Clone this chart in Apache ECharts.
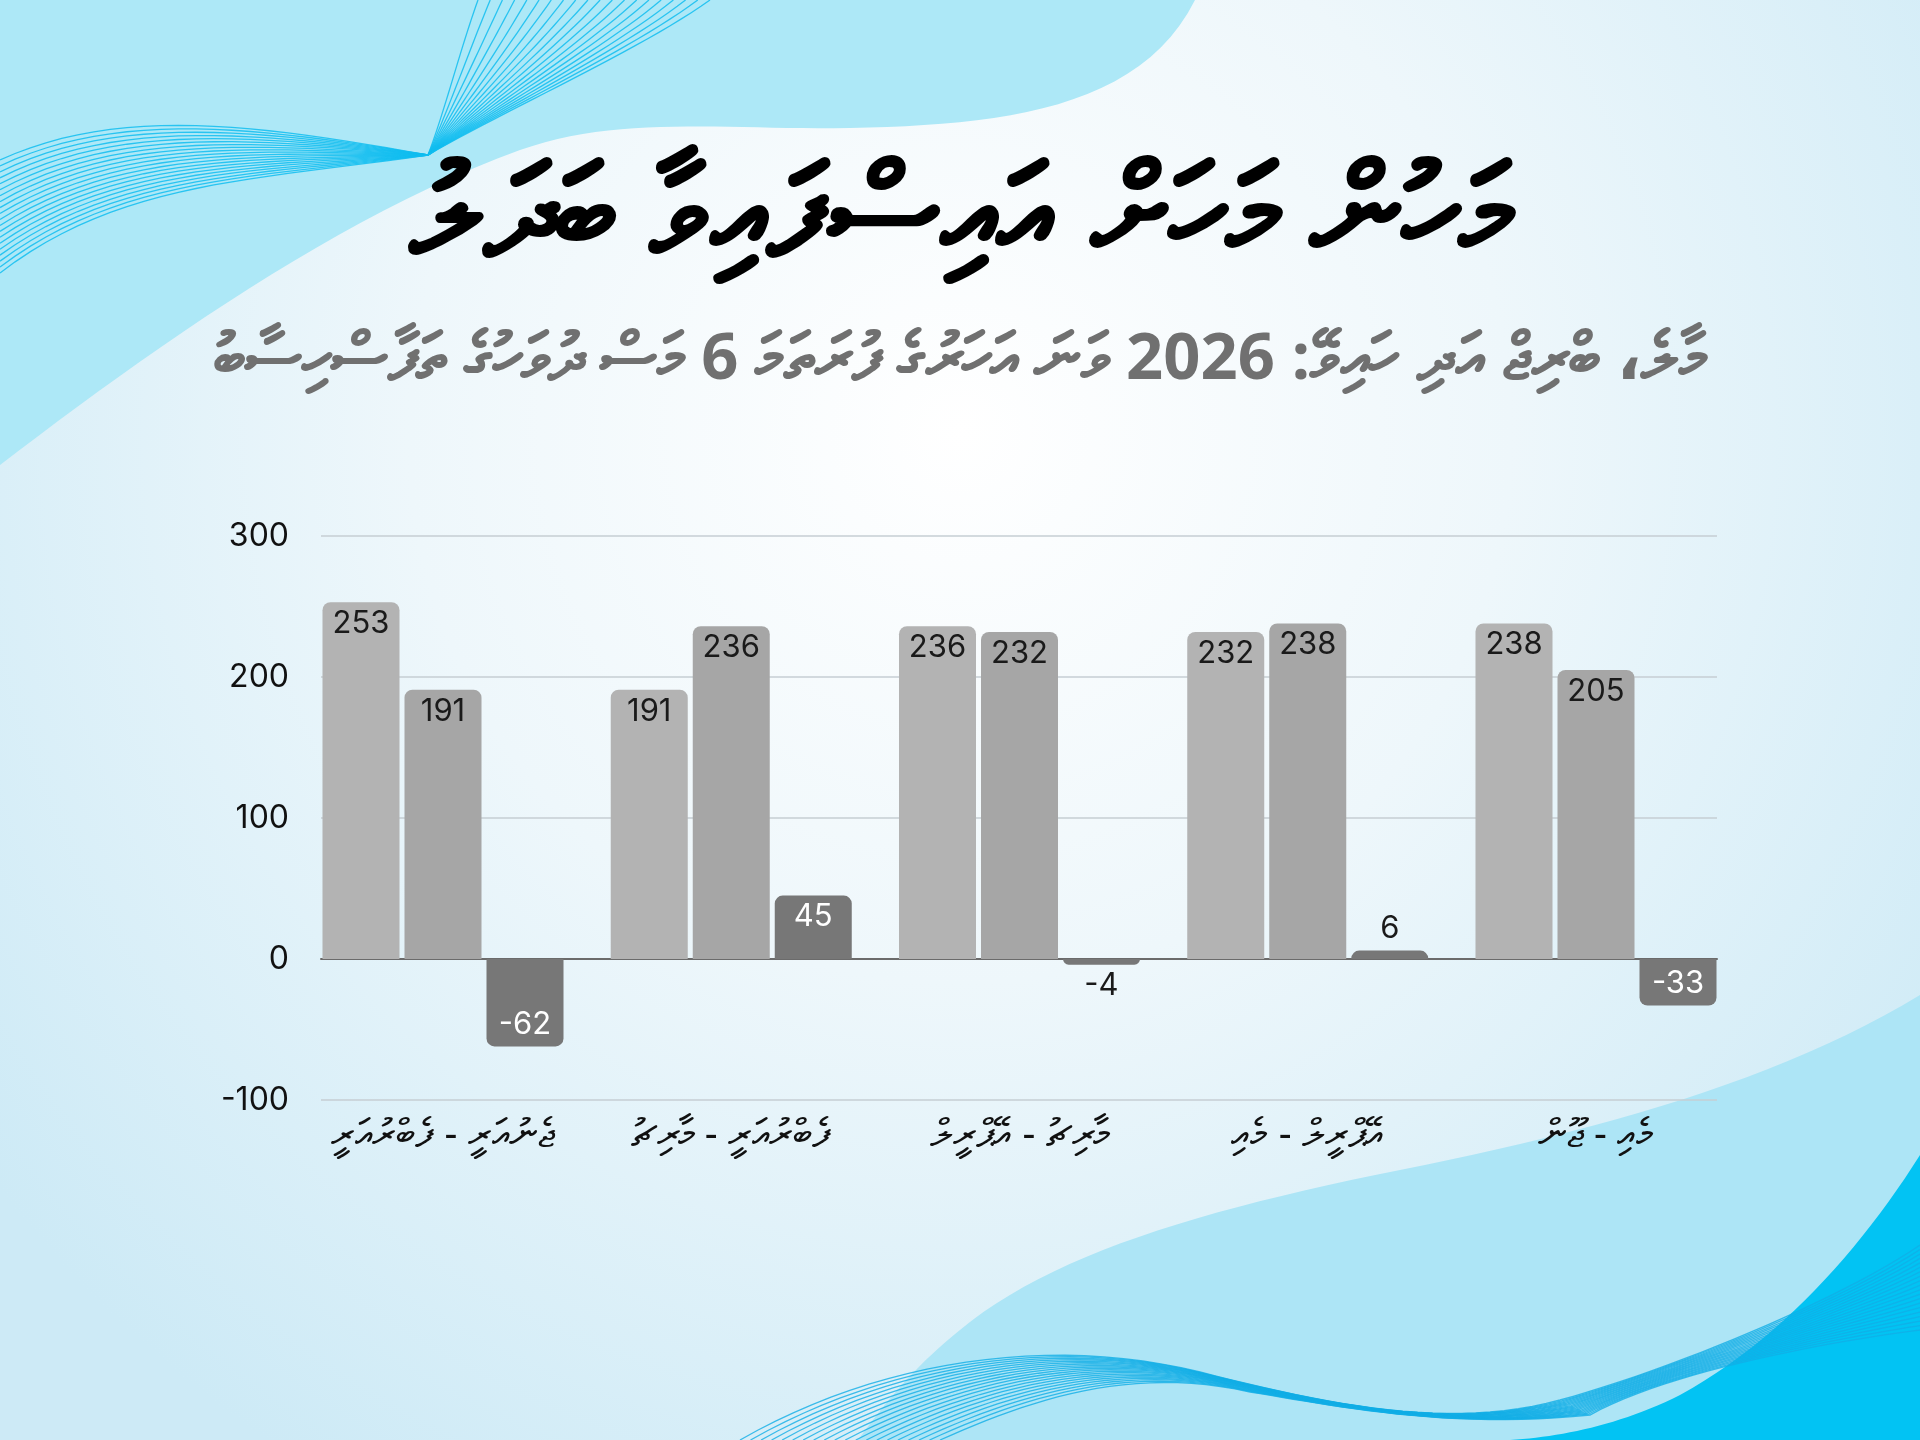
<!DOCTYPE html>
<html>

<head>
    <meta charset="utf-8" />
    <script src="https://cdn.jsdelivr.net/npm/echarts@6/dist/echarts.min.js"></script>
    <style>
        html, body { margin: 0; padding: 0; }
        #main { width: 1920px; height: 1440px; }
    </style>
</head>

<body>
    <div id="main"></div>
    <script type="text/javascript">
        // texts
        var titleText = 'މަހުން މަހަށް އައިސްފައިވާ ބަދަލު';
        var subtitleText = 'މާލެ، ބްރިޖް އަދި ހައިވޭ: 2026 ވަނަ އަހަރުގެ ފުރަތަމަ 6 މަސް ދުވަހުގެ ތަފާސްހިސާބު';

        // data
        var categories = ['ޖެނުއަރީ - ފެބްރުއަރީ', 'ފެބްރުއަރީ - މާރިޗު', 'މާރިޗު - އޭޕްރީލް', 'އޭޕްރީލް - މެއި', 'މެއި - ޖޫން'];
        var firstMonth = [253, 191, 236, 232, 238];
        var secondMonth = [191, 236, 232, 238, 205];
        var change = [-62, 45, -4, 6, -33];
        var yMin = -100, yMax = 300, yStep = 100;

        var thaanaFont = "'Noto Sans', 'DejaVu Sans', sans-serif";
        var numFont = "Inter, 'Noto Sans', sans-serif";

        var myChart = echarts.init(document.getElementById('main'));

        // sample a chain of cubic curves into points: start point, then [c1x,c1y,c2x,c2y,x,y] per segment
        function curvePoints(start, segs) {
            var pts = [start.slice()];
            var p = start;
            segs.forEach(function (s) {
                for (var k = 1; k <= 24; k++) {
                    var u = k / 24, a = 1 - u;
                    pts.push([
                        a * a * a * p[0] + 3 * a * a * u * s[0] + 3 * a * u * u * s[2] + u * u * u * s[4],
                        a * a * a * p[1] + 3 * a * a * u * s[1] + 3 * a * u * u * s[3] + u * u * u * s[5]
                    ]);
                }
                p = [s[4], s[5]];
            });
            return pts;
        }

        // background decoration
        var deco = [];
        var topBlob = curvePoints([1195, 0], [
            [1140, 110, 1000, 125, 850, 128],
            [720, 130, 620, 115, 520, 150],
            [340, 215, 150, 350, 0, 465]
        ]);
        topBlob.push([0, 0]);
        deco.push({ type: 'polygon', z: -5, silent: true, shape: { points: topBlob }, style: { fill: '#ade8f7' } });

        var bottomBlob = curvePoints([1920, 995], [
            [1780, 1080, 1600, 1130, 1400, 1170],
            [1200, 1210, 1050, 1255, 960, 1330],
            [910, 1370, 880, 1410, 858, 1440]
        ]);
        bottomBlob.push([1920, 1440]);
        deco.push({ type: 'polygon', z: -5, silent: true, shape: { points: bottomBlob }, style: { fill: '#ade5f6' } });

        var cornerBlob = curvePoints([1920, 1155], [
            [1860, 1250, 1780, 1340, 1680, 1395],
            [1620, 1425, 1560, 1437, 1510, 1440]
        ]);
        cornerBlob.push([1920, 1440]);
        deco.push({ type: 'polygon', z: -4, silent: true, shape: { points: cornerBlob }, style: { fill: '#02c3f3' } });

        var n = 20;
        for (var i = 0; i < n; i++) {
            var t = i / (n - 1);
            deco.push({
                type: 'polyline', z: -3, silent: true,
                shape: {
                    points: curvePoints([0, 160 + 113 * t], [
                        [120, 105 + 75 * t, 260, 125 + 55 * t, 428, 155],
                        [445 + 60 * t, 110, 460 + 180 * t, 50, 478 + 232 * t, 0]
                    ])
                },
                style: { fill: null, stroke: '#11bdf0', lineWidth: 1.3, opacity: 0.85 }
            });
            var b0 = [1560 + 30 * t, 1400 + 15 * t];
            deco.push({
                type: 'polyline', z: -3, silent: true,
                shape: {
                    points: curvePoints([740 + 200 * t, 1440], [
                        [880 + 150 * t, 1360 + 40 * t, 1050 + 80 * t, 1335 + 30 * t, 1200 + 50 * t, 1372 + 20 * t],
                        [1330, 1405, 1450, 1430, b0[0], b0[1]],
                        [1670, 1370, 1840, 1300 + 40 * t, 1920, 1245 + 85 * t]
                    ])
                },
                style: { fill: null, stroke: '#12aee6', lineWidth: 1.3, opacity: 0.8 }
            });
        }

        // third series needs per-bar label placement and corner rounding
        var changeData = change.map(function (v) {
            var big = Math.abs(v) > 15;
            var pos;
            if (v >= 0) pos = big ? 'insideTop' : 'top';
            else pos = big ? 'insideBottom' : 'bottom';
            return {
                value: v,
                itemStyle: { borderRadius: v >= 0 ? [8, 8, 0, 0] : [0, 0, 8, 8] },
                label: { position: pos, color: big ? '#ffffff' : '#1a1a1a' }
            };
        });

        var barLabel = {
            show: true,
            position: 'insideTop',
            distance: 6,
            fontSize: 31,
            fontFamily: numFont,
            color: '#1a1a1a'
        };

        var option = {
            backgroundColor: {
                type: 'radial', x: 0.5, y: 0.3, r: 0.85,
                colorStops: [
                    { offset: 0, color: '#ffffff' },
                    { offset: 0.45, color: '#eef7fb' },
                    { offset: 1, color: '#cdeaf6' }
                ]
            },
            graphic: { elements: deco },
            title: [
                {
                    text: titleText,
                    left: 'center',
                    top: 150,
                    textStyle: { fontSize: 128, fontWeight: 'bold', color: '#000000', fontFamily: thaanaFont }
                },
                {
                    text: subtitleText,
                    left: 'center',
                    top: 323,
                    textStyle: { fontSize: 65, fontWeight: 'bold', color: '#707070', fontFamily: thaanaFont }
                }
            ],
            grid: [
                { left: 321, right: 203, top: 536, bottom: 340 },
                { left: 443, right: 324, top: 536, bottom: 340 }
            ],
            xAxis: [
                {
                    gridIndex: 0, type: 'category', data: categories,
                    axisLine: { lineStyle: { color: '#6b6b6b', width: 2 } },
                    axisTick: { show: false }, axisLabel: { show: false }, splitLine: { show: false }
                },
                {
                    gridIndex: 1, type: 'category', data: categories, boundaryGap: false,
                    axisLine: { show: false, onZero: false }, axisTick: { show: false },
                    axisLabel: { interval: 0, margin: 16, fontSize: 40, color: '#111111', fontFamily: thaanaFont }
                }
            ],
            yAxis: [
                {
                    gridIndex: 0, type: 'value', min: yMin, max: yMax, interval: yStep,
                    axisLine: { show: false }, axisTick: { show: false },
                    axisLabel: { fontSize: 32, color: '#111111', margin: 32, fontFamily: numFont },
                    splitLine: { lineStyle: { color: '#c6ced3', width: 1.5 } }
                },
                {
                    gridIndex: 1, type: 'value', min: yMin, max: yMax, interval: yStep, show: false,
                    splitLine: { show: false }
                }
            ],
            series: [
                {
                    type: 'bar', xAxisIndex: 1, yAxisIndex: 1, clip: false,
                    data: firstMonth, barWidth: 77, barGap: '6.5%',
                    itemStyle: { color: '#b3b3b3', borderRadius: [8, 8, 0, 0] },
                    label: barLabel
                },
                {
                    type: 'bar', xAxisIndex: 1, yAxisIndex: 1, clip: false,
                    data: secondMonth, barWidth: 77, barGap: '6.5%',
                    itemStyle: { color: '#a6a6a6', borderRadius: [8, 8, 0, 0] },
                    label: barLabel
                },
                {
                    type: 'bar', xAxisIndex: 1, yAxisIndex: 1, clip: false,
                    data: changeData, barWidth: 77, barGap: '6.5%',
                    itemStyle: { color: '#777777' },
                    label: barLabel
                }
            ]
        };

        myChart.setOption(option);
    </script>
</body>

</html>
